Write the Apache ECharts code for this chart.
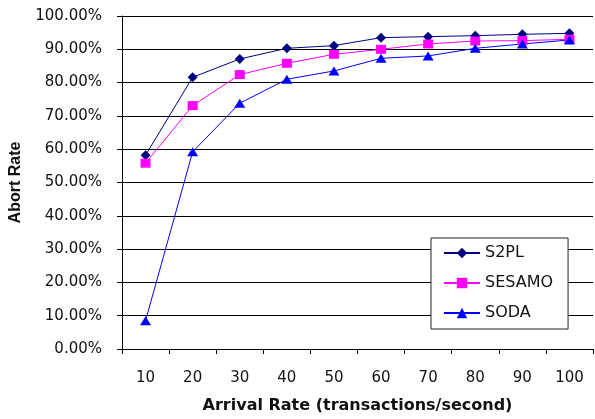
<!DOCTYPE html>
<html>
<head>
<meta charset="utf-8">
<script src="https://cdn.jsdelivr.net/npm/echarts@6/dist/echarts.min.js"></script>
<style>
html,body{margin:0;padding:0;background:#fff;}
#chart{width:595px;height:419px;}
</style>
</head>
<body>
<div id="chart"></div>
<script>
var categories = ['10','20','30','40','50','60','70','80','90','100'];
var s2pl   = [58.2, 81.6, 87.1, 90.3, 91.1, 93.5, 93.8, 94.1, 94.5, 94.8];
var sesamo = [55.8, 73.1, 82.4, 85.8, 88.5, 90.0, 91.6, 92.5, 92.6, 93.0];
var soda   = [8.5, 59.2, 73.8, 81.0, 83.5, 87.3, 88.0, 90.3, 91.6, 92.8];
var yTicks = [0, 10, 20, 30, 40, 50, 60, 70, 80, 90, 100];

var chart = echarts.init(document.getElementById('chart'));
var labelFont = 'DejaVu Sans';
chart.setOption({
  animation: false,
  backgroundColor: '#fff',
  grid: {left: 122, right: 2, top: 16, bottom: 70},
  legend: {
    orient: 'vertical',
    left: 431, top: 238,
    backgroundColor: '#fff',
    borderColor: '#222', borderWidth: 1,
    padding: [7, 15, 8, 12],
    itemWidth: 36, itemHeight: 13, itemGap: 14,
    textStyle: {fontFamily: labelFont, fontSize: 16, color: '#111'},
    data: ['S2PL', 'SESAMO', 'SODA']
  },
  xAxis: {
    type: 'category',
    data: categories,
    boundaryGap: true,
    name: 'Arrival Rate (transactions/second)',
    nameLocation: 'middle',
    nameGap: 49,
    nameTextStyle: {fontFamily: labelFont, fontSize: 16, fontWeight: 'bold', color: '#111'},
    axisLine: {lineStyle: {color: '#000', width: 1}},
    axisTick: {show: true, length: 5, lineStyle: {color: '#000'}},
    axisLabel: {fontFamily: labelFont, fontSize: 15, color: '#111', margin: 22}
  },
  yAxis: {
    type: 'value',
    min: yTicks[0], max: yTicks[yTicks.length - 1], interval: 10,
    name: 'Abort Rate',
    nameLocation: 'middle',
    nameRotate: 90,
    nameGap: 98,
    nameTextStyle: {fontFamily: 'Liberation Sans', fontSize: 16, fontWeight: 'bold', color: '#111'},
    axisLine: {show: true, lineStyle: {color: '#000', width: 1}},
    axisTick: {show: true, length: 5, lineStyle: {color: '#000'}},
    axisLabel: {fontFamily: labelFont, fontSize: 15, color: '#111', margin: 20,
      formatter: function (v) { return v.toFixed(2) + '%'; }},
    splitLine: {show: true, lineStyle: {color: '#000', width: 1}}
  },
  series: [
    {name: 'S2PL', type: 'line', data: s2pl, symbol: 'diamond', symbolSize: [10, 10],
     lineStyle: {color: '#000080', width: 1}, itemStyle: {color: '#000080'}},
    {name: 'SESAMO', type: 'line', data: sesamo, symbol: 'rect', symbolSize: [10, 9],
     lineStyle: {color: '#FF00FF', width: 1}, itemStyle: {color: '#FF00FF'}},
    {name: 'SODA', type: 'line', data: soda, symbol: 'triangle', symbolSize: [11, 9],
     lineStyle: {color: '#0000FF', width: 1}, itemStyle: {color: '#0000FF'}}
  ]
});
</script>
</body>
</html>
